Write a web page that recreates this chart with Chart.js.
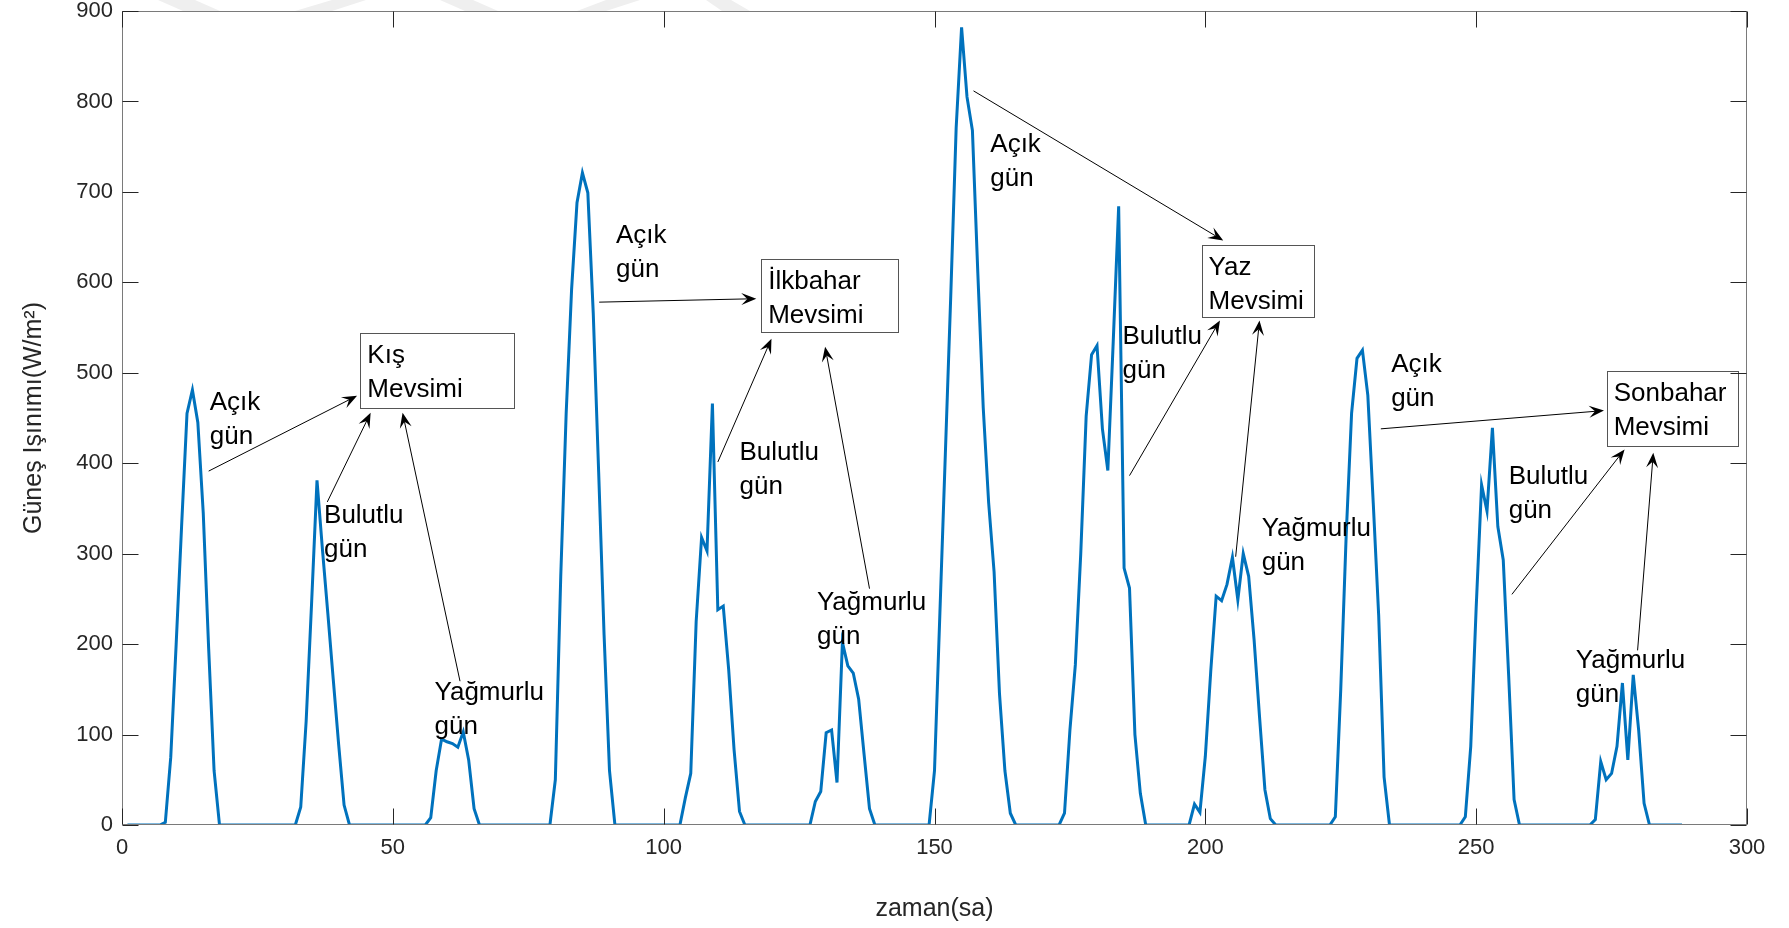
<!DOCTYPE html>
<html lang="tr">
<head>
<meta charset="UTF-8">
<title>Güneş Işınımı - mevsimler</title>
<script src="https://cdn.jsdelivr.net/npm/chart.js"></script>
<style>
    html, body { margin: 0; padding: 0; background: #fff; }
    #wrap { width: 1789px; height: 928px; }
</style>
</head>
<body>
<div id="wrap"><canvas id="chart" width="1789" height="928"></canvas></div>
<script>
    // saatlik güneş ışınımı (W/m2), her gün 24 değer
    const kisAcik          = [0,0,0,0,0,0,0,3,75,200,330,455,481,445,345,195,60,0,0,0,0,0,0,0];
    const kisBulutlu       = [0,0,0,0,0,0,0,0,20,115,245,381,305,234,161,89,22,0,0,0,0,0,0,0];
    const kisYagmurlu      = [0,0,0,0,0,0,0,0,8,60,95,92,90,86,103,72,18,0,0,0,0,0,0,0];
    const ilkbaharAcik     = [0,0,0,0,0,0,0,50,275,455,592,688,721,699,566,390,210,60,0,0,0,0,0,0];
    const ilkbaharBulutlu  = [0,0,0,0,0,0,0,30,57,225,318,303,466,238,242,172,83,15,0,0,0,0,0,0];
    const ilkbaharYagmurlu = [0,0,0,0,0,0,0,26,37,102,105,47,202,176,168,139,78,18,0,0,0,0,0,0];
    const yazAcik          = [0,0,0,0,0,60,235,410,585,771,882,805,768,610,461,356,280,145,60,13,0,0,0,0];
    const yazBulutlu       = [0,0,0,0,0,13,105,177,300,452,520,530,438,392,535,684,284,262,100,35,0,0,0,0];
    const yazYagmurlu      = [0,0,0,0,0,23,14,76,170,253,248,266,296,249,300,275,205,120,39,7,0,0,0,0];
    const sonbaharAcik     = [0,0,0,0,0,0,0,9,150,320,455,516,525,475,356,232,53,0,0,0,0,0,0,0];
    const sonbaharBulutlu  = [0,0,0,0,0,0,0,9,87,240,376,347,439,330,293,165,28,0,0,0,0,0,0,0];
    const sonbaharYagmurlu = [0,0,0,0,0,0,0,6,70,50,57,87,157,72,166,105,24,0,0,0,0,0,0,0];

    const irradiance = [].concat(kisAcik, kisBulutlu, kisYagmurlu,
        ilkbaharAcik, ilkbaharBulutlu, ilkbaharYagmurlu,
        yazAcik, yazBulutlu, yazYagmurlu,
        sonbaharAcik, sonbaharBulutlu, sonbaharYagmurlu);
    const hours = irradiance.map((_, i) => i + 1);

    const xTicks = [0, 50, 100, 150, 200, 250, 300];
    const yTicks = [0, 100, 200, 300, 400, 500, 600, 700, 800, 900];

    // gün etiketleri (veri koordinatlarında, ilk satırın ortası)
    const dayLabels = ['Açık\ngün', 'Bulutlu\ngün', 'Yağmurlu\ngün',
                       'Açık\ngün', 'Bulutlu\ngün', 'Yağmurlu\ngün',
                       'Açık\ngün', 'Bulutlu\ngün', 'Yağmurlu\ngün',
                       'Açık\ngün', 'Bulutlu\ngün', 'Yağmurlu\ngün'];
    const dayLabelX = [16.2, 37.3, 57.7, 91.2, 114.0, 128.3, 160.3, 184.7, 210.4, 234.3, 256.0, 268.4];
    const dayLabelY = [467, 342, 146.5, 651.5, 411.5, 246, 752.5, 540, 328, 508.5, 385, 182];

    // mevsim kutuları: sol, sağ, üst, alt
    const seasonNames = ['Kış\nMevsimi', 'İlkbahar\nMevsimi', 'Yaz\nMevsimi', 'Sonbahar\nMevsimi'];
    const seasonBox = [[44.0, 72.5, 544.1, 460.7], [118.0, 143.2, 626.1, 545.3],
                       [199.3, 219.9, 641.3, 561.7], [274.1, 298.3, 502.4, 419.1]];

    // oklar: [x1, y1, x2, y2]
    const arrows = [
        [16.0, 391.3, 43.4, 474.6], [37.9, 357.2, 45.9, 455.7], [62.4, 159, 51.8, 455.7],
        [88.1, 578.1, 117.1, 581.9], [110.0, 401.4, 119.9, 537.7], [138.0, 261.3, 129.8, 528.9],
        [157.2, 811.7, 203.3, 646.3], [186.0, 386.3, 202.7, 557.9], [205.6, 296.6, 210.0, 557.9],
        [232.4, 438.0, 273.6, 458.2], [256.6, 255.0, 277.4, 415.3], [279.8, 193.1, 282.7, 411.5]
    ];

    const FONT = '"Liberation Sans", Arial, Helvetica, sans-serif';
    const AXIS_COLOR = '#262626';

    function drawArrow(ctx, x1, y1, x2, y2) {
        const a = Math.atan2(y2 - y1, x2 - x1);
        const L = 15, W = 6, N = 9;
        const cos = Math.cos(a), sin = Math.sin(a);
        ctx.beginPath();
        ctx.moveTo(x1, y1);
        ctx.lineTo(x2 - N * cos, y2 - N * sin);
        ctx.stroke();
        ctx.beginPath();
        ctx.moveTo(x2, y2);
        ctx.lineTo(x2 - L * cos + W * sin, y2 - L * sin - W * cos);
        ctx.lineTo(x2 - N * cos, y2 - N * sin);
        ctx.lineTo(x2 - L * cos - W * sin, y2 - L * sin + W * cos);
        ctx.closePath();
        ctx.fill();
    }

    const backdrop = {
        id: 'backdrop',
        beforeDraw(chart) {
            // soluk filigran şeritleri (üst kenar)
            const ctx = chart.ctx, top = chart.chartArea.top;
            ctx.save();
            ctx.fillStyle = '#efefef';
            [[158, 195, 183, 220], [332, 366, 295, 332], [440, 473, 465, 498],
             [606, 640, 577, 606], [706, 731, 722, 750]].forEach(s => {
                ctx.beginPath();
                ctx.moveTo(s[0], 0); ctx.lineTo(s[1], 0);
                ctx.lineTo(s[3], top); ctx.lineTo(s[2], top);
                ctx.closePath(); ctx.fill();
            });
            ctx.restore();
        },
        afterDatasetsDraw(chart) {
            const ctx = chart.ctx, xs = chart.scales.x, ys = chart.scales.y;
            const px = v => xs.getPixelForValue(v), py = v => ys.getPixelForValue(v);
            ctx.save();
            ctx.font = '26px ' + FONT;
            ctx.fillStyle = '#000';
            ctx.textBaseline = 'middle';
            dayLabels.forEach((t, i) => {
                t.split('\n').forEach((line, k) => ctx.fillText(line, px(dayLabelX[i]), py(dayLabelY[i]) + k * 34));
            });
            seasonBox.forEach((b, i) => {
                const l = px(b[0]), r = px(b[1]), t = py(b[2]), bt = py(b[3]);
                ctx.fillStyle = '#fff';
                ctx.fillRect(l, t, r - l, bt - t);
                ctx.strokeStyle = '#555';
                ctx.lineWidth = 1;
                ctx.strokeRect(Math.round(l) + 0.5, Math.round(t) + 0.5, Math.round(r - l), Math.round(bt - t));
                ctx.fillStyle = '#000';
                seasonNames[i].split('\n').forEach((line, k) => ctx.fillText(line, l + 7, t + 23 + k * 34));
            });
            ctx.strokeStyle = '#000';
            ctx.fillStyle = '#000';
            ctx.lineWidth = 1;
            arrows.forEach(a => drawArrow(ctx, px(a[0]), py(a[1]), px(a[2]), py(a[3])));
            ctx.restore();
        },
        afterDraw(chart) {
            // kutu çerçevesi ve içe dönük tik işaretleri
            const ctx = chart.ctx, ca = chart.chartArea;
            const xs = chart.scales.x, ys = chart.scales.y;
            const L = Math.round(ca.left) + 0.5, R = Math.round(ca.right) - 0.5;
            const T = Math.round(ca.top) + 0.5, B = Math.round(ca.bottom) - 0.5;
            ctx.save();
            ctx.strokeStyle = '#7a7a7a';
            ctx.lineWidth = 1;
            ctx.strokeRect(L, T, R - L, B - T);
            ctx.strokeStyle = AXIS_COLOR;
            ctx.beginPath();
            xTicks.forEach(v => {
                const x = Math.round(xs.getPixelForValue(v)) + 0.5;
                ctx.moveTo(x, B); ctx.lineTo(x, B - 16);
                ctx.moveTo(x, T); ctx.lineTo(x, T + 16);
            });
            yTicks.forEach(v => {
                const y = Math.round(ys.getPixelForValue(v)) + 0.5;
                ctx.moveTo(L, y); ctx.lineTo(L + 16, y);
                ctx.moveTo(R, y); ctx.lineTo(R - 16, y);
            });
            ctx.stroke();
            ctx.restore();
        }
    };

    new Chart(document.getElementById('chart').getContext('2d'), {
        type: 'line',
        data: {
            datasets: [{
                data: hours.map((h, i) => ({ x: h, y: irradiance[i] })),
                borderColor: '#0072BD',
                borderWidth: 3,
                pointRadius: 0,
                tension: 0,
                fill: false
            }]
        },
        options: {
            responsive: false,
            animation: false,
            layout: { padding: { top: 11, right: 42, left: 0, bottom: 0 } },
            plugins: { legend: { display: false }, tooltip: { enabled: false } },
            scales: {
                x: {
                    type: 'linear', min: 0, max: 300,
                    afterBuildTicks: s => { s.ticks = xTicks.map(v => ({ value: v })); },
                    ticks: { font: { size: 22, family: FONT }, color: AXIS_COLOR, padding: 10, maxRotation: 0 },
                    grid: { display: false, drawTicks: false },
                    border: { display: false },
                    title: { display: true, text: 'zaman(sa)', color: AXIS_COLOR,
                             font: { size: 25, family: FONT }, padding: { top: 0, bottom: 4 } },
                    afterFit: s => { s.height = 103; s.paddingLeft = 0; s.paddingRight = 0; }
                },
                y: {
                    min: 0, max: 900,
                    afterBuildTicks: s => { s.ticks = yTicks.map(v => ({ value: v })); },
                    ticks: { font: { size: 22, family: FONT }, color: AXIS_COLOR, padding: 9 },
                    grid: { display: false, drawTicks: false },
                    border: { display: false },
                    title: { display: true, text: 'Güneş Işınımı(W/m²)', color: AXIS_COLOR,
                             font: { size: 25, family: FONT }, padding: { top: 19, bottom: 0 } },
                    afterFit: s => { s.width = 122; s.paddingTop = 0; s.paddingBottom = 0; }
                }
            }
        },
        plugins: [backdrop]
    });
</script>
</body>
</html>
